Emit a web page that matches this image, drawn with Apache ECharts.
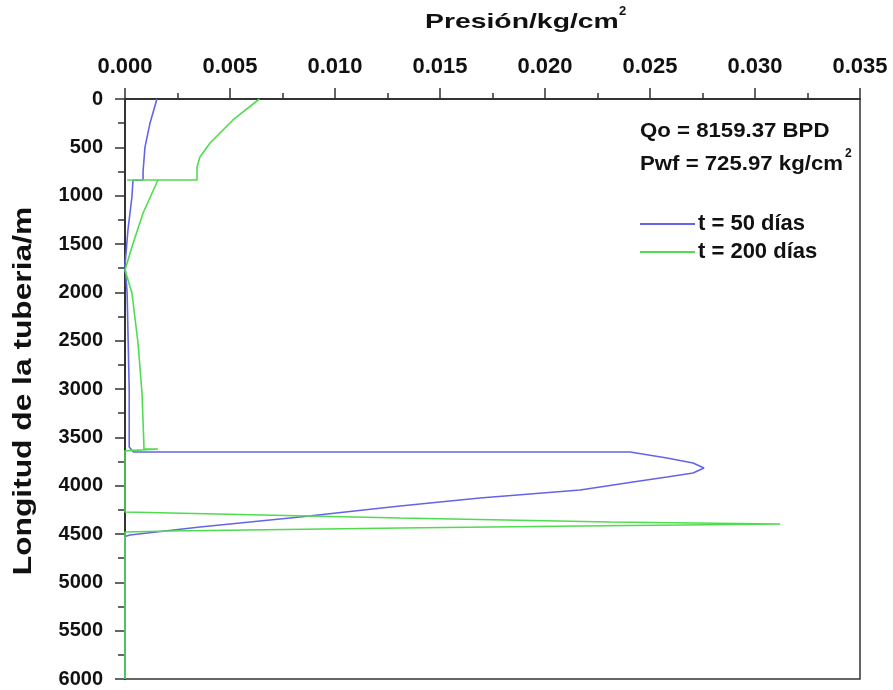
<!DOCTYPE html>
<html><head><meta charset="utf-8">
<script src="https://cdn.jsdelivr.net/npm/echarts@6/dist/echarts.min.js"></script>
<style>html,body{margin:0;padding:0;background:#fff}#c{width:893px;height:690px}</style>
</head><body><div id="c"></div>
<script>
// Tick labels
const xTicks = ['0.000','0.005','0.010','0.015','0.020','0.025','0.030','0.035'];
const yTicks = [0,500,1000,1500,2000,2500,3000,3500,4000,4500,5000,5500,6000];
const seriesNames = ['t = 50 días', 't = 200 días'];

// t = 50 días
const blueDepth = [0, 250, 500, 750, 838, 840, 1014, 1355, 1593, 1720, 2000, 2500, 3000, 3600, 3620, 3652, 3652, 3714, 3766, 3817, 3869, 3910, 3962, 4014, 4045, 4128, 4210, 4324, 4428, 4510, 4525, 6000];
const bluePressure = [0.00152, 0.00119, 0.00095, 0.00086, 0.00086, 0.00038, 0.00033, 0.00014, 0.00005, 0.0, 0.0001, 0.00015, 0.0002, 0.0002, 0.0002, 0.0004, 0.02405, 0.02581, 0.02705, 0.02757, 0.02705, 0.02581, 0.02419, 0.02262, 0.02167, 0.0169, 0.0131, 0.00833, 0.00357, 0.00024, 0.0, 0.0];

// t = 200 días
const greenDepth = [0, 217, 455, 600, 703, 817, 838, 838, 838, 1179, 1531, 1769, 2007, 2524, 3041, 3579, 3621, 3621, 3640, 4272, 4334, 4376, 4397, 4417, 4438, 4469, 4479, 6000];
const greenPressure = [0.0064, 0.00514, 0.00405, 0.00357, 0.00343, 0.00343, 0.00343, 0.0001, 0.00157, 0.00086, 0.00033, 0.0, 0.00033, 0.00062, 0.00081, 0.0009, 0.0009, 0.00157, 0.0, 0.0, 0.0131, 0.0231, 0.0312, 0.02167, 0.0131, 0.00214, 0.0, 0.0];

const zip = (xs, ys) => xs.map((x, i) => [x, ys[i]]);
const FONT = '"Liberation Sans",Arial,sans-serif';
const bold = (px) => 'bold ' + px + 'px "Liberation Sans",Arial,sans-serif';

const chart = echarts.init(document.getElementById('c'));
chart.setOption({
  animation: false,
  backgroundColor: '#fff',
  grid: { left: 125, right: 33, top: 99, bottom: 11, show: true, borderColor: '#333', borderWidth: 1.5,
          containLabel: false, outerBoundsMode: 'none' },
  xAxis: {
    type: 'value', position: 'top', min: 0, max: 0.035, interval: 0.005,
    axisLine: { show: true, lineStyle: { color: '#333', width: 2 } },
    axisTick: { show: true, inside: false, length: 11, lineStyle: { color: '#333', width: 1.5 } },
    minorTick: { show: true, splitNumber: 2, length: 6, lineStyle: { color: '#333', width: 1.5 } },
    splitLine: { show: false },
    axisLabel: { margin: 21, color: '#111', fontFamily: FONT, fontWeight: 'bold', fontSize: 22,
      formatter: v => xTicks[Math.round(v / 0.005)] }
  },
  yAxis: {
    type: 'value', inverse: true, min: 0, max: 6000, interval: 500,
    axisLine: { show: true, lineStyle: { color: '#333', width: 2 } },
    axisTick: { show: true, length: 10, lineStyle: { color: '#333', width: 1.5 } },
    minorTick: { show: true, splitNumber: 2, length: 7, lineStyle: { color: '#333', width: 1.5 } },
    splitLine: { show: false },
    axisLabel: { margin: 22, color: '#111', fontFamily: FONT, fontWeight: 'bold', fontSize: 20,
      formatter: v => String(yTicks[Math.round(v / 500)]) }
  },
  legend: {
    orient: 'vertical', left: 640, top: 213, itemGap: 6, padding: 0,
    itemWidth: 55, itemHeight: 2, icon: 'rect',
    textStyle: { color: '#111', fontFamily: FONT, fontWeight: 'bold', fontSize: 22, padding: [0, 0, 0, -2] },
    data: seriesNames
  },
  graphic: [
    { type: 'text', x: 425, y: 22, scaleX: 1.35, style: { text: 'Presión/kg/cm', fill: '#111', font: bold(21), verticalAlign: 'middle' } },
    { type: 'text', x: 619, y: 11, style: { text: '2', fill: '#111', font: bold(13), verticalAlign: 'middle' } },
    { type: 'text', x: 24, y: 391, rotation: Math.PI / 2, scaleX: 1.22, style: { text: 'Longitud de la tuberia/m', fill: '#111', font: bold(26), align: 'center', verticalAlign: 'middle' } },
    { type: 'text', x: 640, y: 131, scaleX: 1.11, style: { text: 'Qo = 8159.37 BPD', fill: '#111', font: bold(20), verticalAlign: 'middle' } },
    { type: 'text', x: 640, y: 164, scaleX: 1.11, style: { text: 'Pwf = 725.97 kg/cm', fill: '#111', font: bold(20), verticalAlign: 'middle' } },
    { type: 'text', x: 845, y: 154, style: { text: '2', fill: '#111', font: bold(12), verticalAlign: 'middle' } }
  ],
  series: [
    { name: seriesNames[0], type: 'line', data: zip(bluePressure, blueDepth), showSymbol: false, symbol: 'none',
      lineStyle: { color: '#6464e6', width: 1.6 }, itemStyle: { color: '#6464e6' } },
    { name: seriesNames[1], type: 'line', data: zip(greenPressure, greenDepth), showSymbol: false, symbol: 'none',
      lineStyle: { color: '#4fdc4f', width: 1.6 }, itemStyle: { color: '#4fdc4f' } }
  ]
});
</script></body></html>
